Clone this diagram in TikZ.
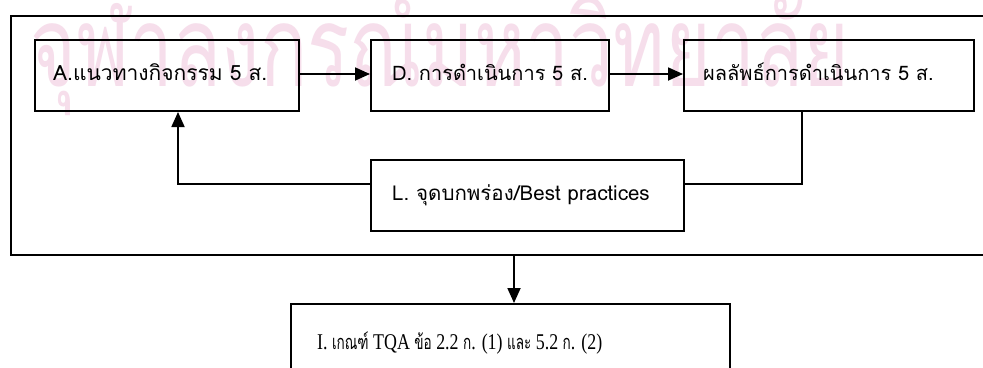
\documentclass[tikz,border=0pt]{standalone}
\usepackage{fontspec}
\usetikzlibrary{arrows.meta,calc}
\newfontfamily\thaisans[Script=Thai]{Loma}
\newfontfamily\latinserif{Liberation Serif}
\setmainfont{Liberation Sans}
\definecolor{markpink}{RGB}{246,222,235}
% Thai words inside a serif line, set a little smaller and narrower
\newcommand\thaiword[1]{{\thaisans\fontsize{20}{22}\selectfont\scalebox{0.85}[1]{#1}}}
\tikzset{
  x=1pt, y=1pt,
  boxstyle/.style={draw, line width=2pt, inner sep=0pt, anchor=north west},
  labeltext/.style={anchor=base west, inner sep=0pt, font=\thaisans\fontsize{20}{22}\selectfont},
  flow/.style={line width=1.8pt, -{Triangle[length=15pt,width=13pt]}},
  link/.style={line width=1.8pt}
}
\begin{document}
\begin{tikzpicture}
\clip (0,0) rectangle (983,-367);
\fill[white] (0,0) rectangle (983,-367);

% university watermark behind the chart
\node[anchor=base west, inner sep=0pt, text=markpink,
      font=\thaisans\fontsize{112}{112}\selectfont] (mark) at (30,-86)
      {\scalebox{0.70}[1]{จุฬาลงกรณ์มหาวิทยาลัย}};

% enclosing frame (open to the right)
\node[boxstyle, minimum width=1000pt, minimum height=239pt] (frame) at (10,-15) {};

% process boxes
\node[boxstyle, minimum width=264pt, minimum height=71pt] (A) at (34,-39) {};
\node[boxstyle, minimum width=238pt, minimum height=71pt] (D) at (370,-39) {};
\node[boxstyle, minimum width=290pt, minimum height=71pt] (R) at (683,-39) {};
\node[boxstyle, minimum width=313pt, minimum height=71pt] (L) at (370,-159) {};
\node[boxstyle, minimum width=439pt, minimum height=90pt] (I) at (290,-303) {};

% box captions
\node[labeltext, font=\thaisans\fontsize{21}{22}\selectfont] (At) at ($(A.north west)+(19,-41)$) {A.แนวทางกิจกรรม 5 ส.};
\node[labeltext] (Dt) at ($(D.north west)+(22,-41)$) {D. การดำเนินการ 5 ส.};
\node[labeltext] (Rt) at ($(R.north west)+(20,-41)$) {ผลลัพธ์การดำเนินการ 5 ส.};
\node[labeltext, font=\thaisans\fontsize{20.5}{22}\selectfont] (Lt) at ($(L.north west)+(22,-41)$) {L. จุดบกพร่อง/Best practices};
\node[anchor=base west, inner sep=0pt, font=\latinserif\fontsize{22.5}{24}\selectfont] (It) at ($(I.north west)+(27,-46)$)
  {\resizebox{285pt}{\height}{I. \thaiword{เกณฑ์} TQA \thaiword{ข้อ} 2.2 \thaiword{ก}. (1) \thaiword{และ} 5.2 \thaiword{ก}. (2)}};

% connectors
\draw[flow] ([yshift=1.5pt]A.east) -- ([yshift=1.5pt]D.west);
\draw[flow] ([yshift=1.5pt]D.east) -- ([yshift=1.5pt]R.west);
\draw[flow] ([yshift=11.5pt]L.west) -| ($(A.south west)+(144,0)$);
\draw[link] ($(R.south west)+(119,0)$) |- ([yshift=11.5pt]L.east);
\draw[flow] ($(frame.south west)+(504,0)$) -- ($(I.north west)+(224,0)$);
\end{tikzpicture}
\end{document}
